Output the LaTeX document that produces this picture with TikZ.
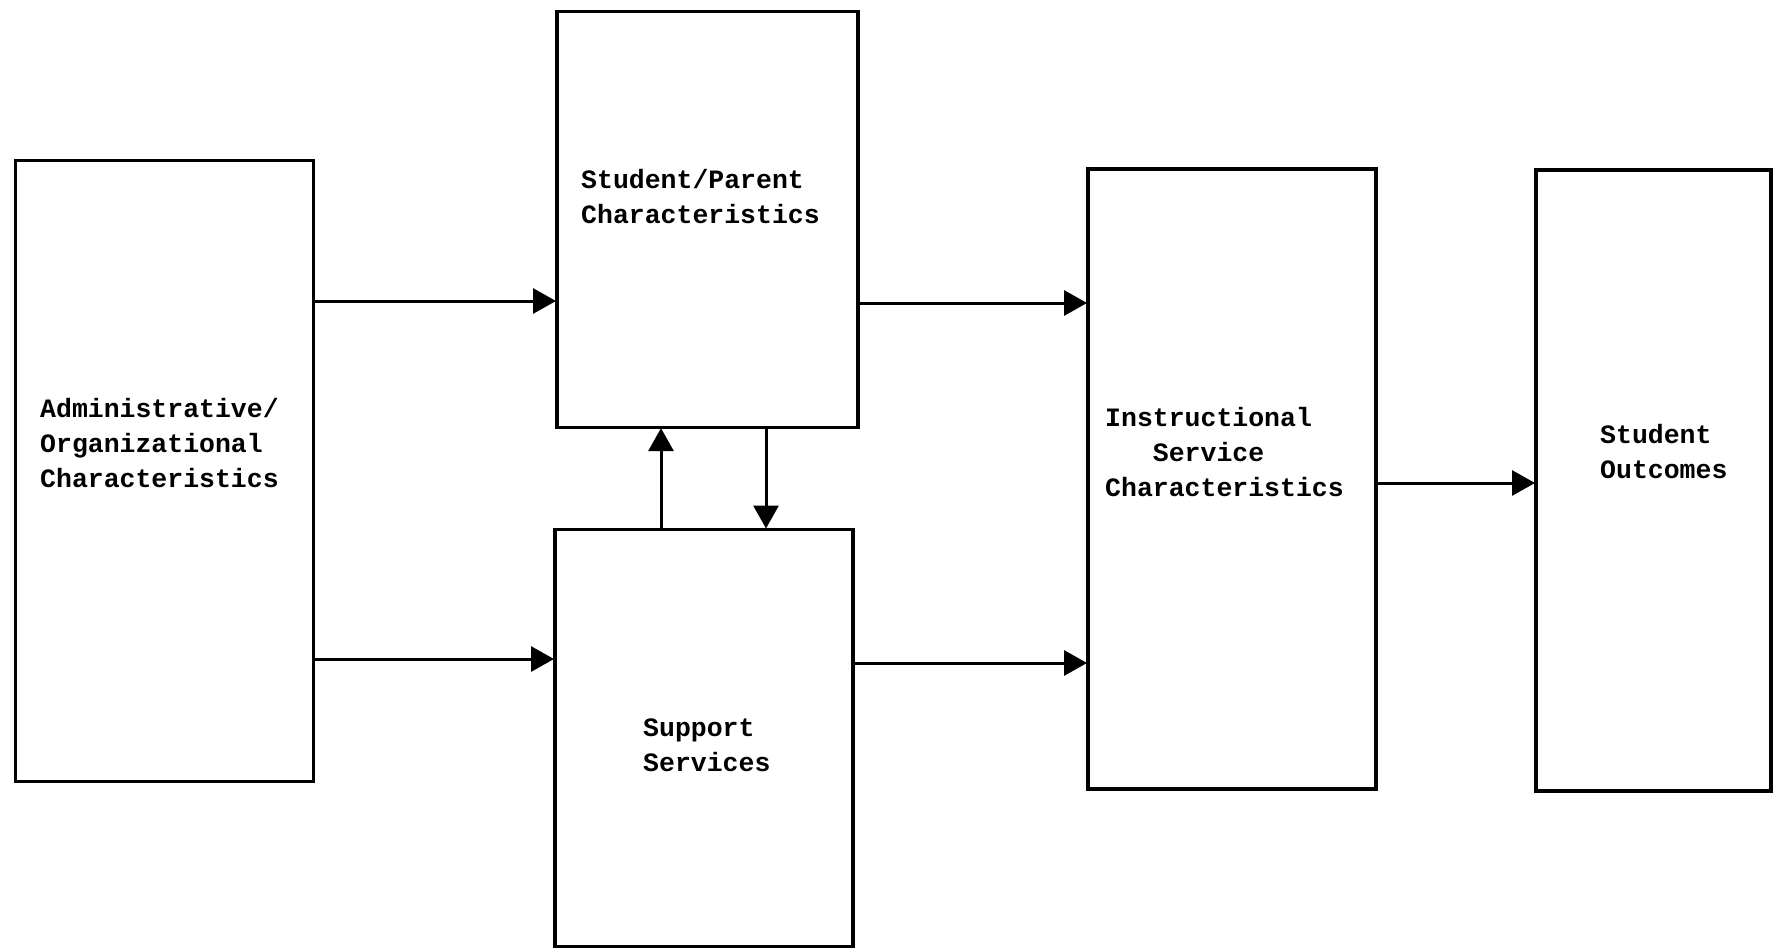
\documentclass[tikz,border=0pt]{standalone}
\usepackage{fontspec}
\setmonofont{Liberation Mono}
\usetikzlibrary{arrows.meta}
\tikzset{
  box/.style={draw=black, line width=3.6pt, anchor=north west, inner sep=0pt},
  lbl/.style={font=\ttfamily\bfseries\fontsize{26.5}{35}\selectfont, inner sep=0pt, align=left, anchor=north west},
  conn/.style={line width=3pt, -{Triangle[length=23pt,width=25pt]}, shorten >=-1pt}
}
\begin{document}
\begin{tikzpicture}[x=1pt,y=-1pt]
\useasboundingbox (0,0) rectangle (1778,948);
% boxes
\node[box, minimum width=298pt, minimum height=621pt] (admin) at (13.6,158.8) {};
\node[box, minimum width=301pt, minimum height=416pt] (sp) at (555,9.5) {};
\node[box, minimum width=298pt, minimum height=417pt] (sup) at (553,527.5) {};
\node[box, minimum width=288pt, minimum height=620pt] (instr) at (1086,167) {};
\node[box, minimum width=235pt, minimum height=621pt] (out) at (1534,168) {};
% texts
\node[lbl] (tadmin) at (40,398) {Administrative/\\Organizational\\Characteristics};
\node[lbl] (tsp) at (581,169) {Student/Parent\\Characteristics};
\node[lbl] (tsup) at (643,719) {Support\\Services};
\node[lbl] (tinstr) at (1105,407) {Instructional\\\hspace*{1.8em}Service\\Characteristics};
\node[lbl] (tout) at (1600,424) {Student\\Outcomes};
% connectors
\coordinate (a1) at (admin.east |- 0,301);
\coordinate (a2) at (admin.east |- 0,659);
\draw[conn] (a1) -- (a1 -| sp.west);
\draw[conn] (a2) -- (a2 -| sup.west);
\coordinate (s1) at (sp.east |- 0,303);
\coordinate (s2) at (sup.east |- 0,663);
\draw[conn] (s1) -- (s1 -| instr.west);
\draw[conn] (s2) -- (s2 -| instr.west);
\coordinate (i1) at (instr.east |- 0,483);
\draw[conn] (i1) -- (i1 -| out.west);
\coordinate (u1) at (661,0);
\coordinate (d1) at (766,0);
\draw[conn] (u1 |- sup.north) -- (u1 |- sp.south);
\draw[conn] (d1 |- sp.south) -- (d1 |- sup.north);
\end{tikzpicture}
\end{document}
